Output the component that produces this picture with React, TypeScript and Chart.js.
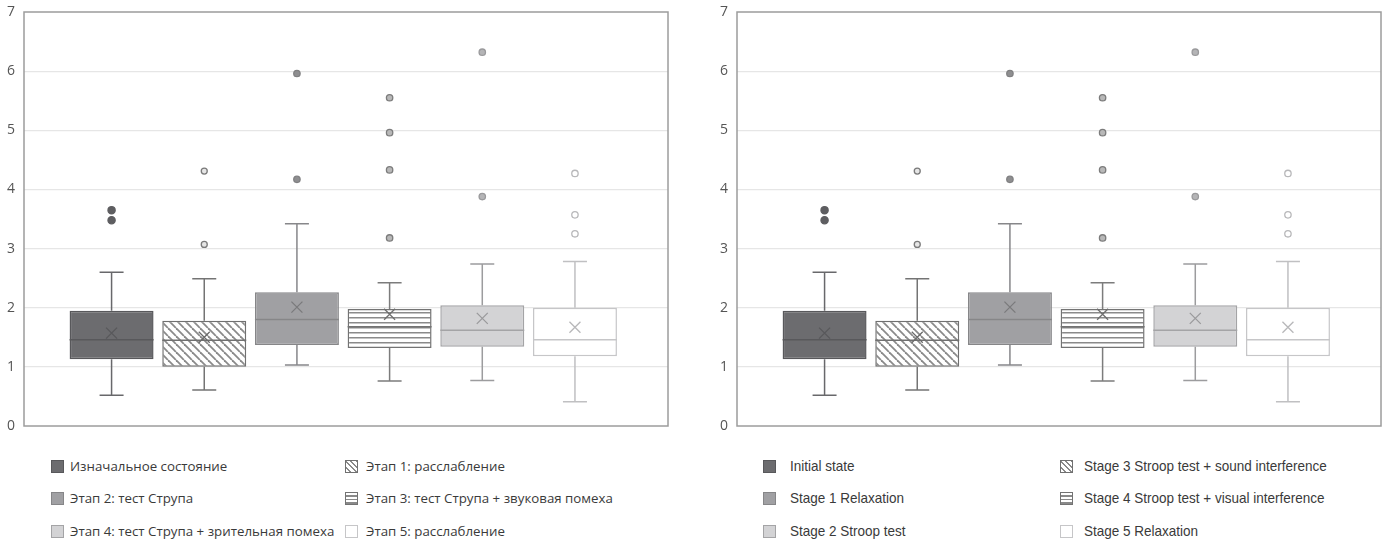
import React, { useEffect, useRef } from "react";
import { Chart, registerables } from "chart.js";
Chart.register(...registerables);

// ---- data ----
const yTickValues = [0, 1, 2, 3, 4, 5, 6, 7];
const seriesKeys = ["s1", "s2", "s3", "s4", "s5", "s6"];
const seriesPositions = [0, 1, 2, 3, 4, 5];
const legendRu = [
  "Изначальное состояние",
  "Этап 1: расслабление",
  "Этап 2: тест Струпа",
  "Этап 3: тест Струпа + звуковая помеха",
  "Этап 4: тест Струпа + зрительная помеха",
  "Этап 5: расслабление",
];
const legendEn = [
  "Initial state",
  "Stage 3 Stroop test + sound interference",
  "Stage 1 Relaxation",
  "Stage 4 Stroop test + visual interference",
  "Stage 2 Stroop test",
  "Stage 5 Relaxation",
];
const q1 = [1.13, 1.0, 1.37, 1.32, 1.34, 1.18];
const q3 = [1.95, 1.78, 2.26, 1.98, 2.04, 2.0];
const medians = [1.46, 1.45, 1.8, 1.68, 1.62, 1.46];
const means = [1.57, 1.5, 2.01, 1.89, 1.82, 1.67];
const whiskerLow = [0.52, 0.61, 1.03, 0.76, 0.77, 0.41];
const whiskerHigh = [2.6, 2.49, 3.42, 2.42, 2.74, 2.78];
const outliersS1 = [3.65, 3.48];
const outliersS2 = [4.31, 3.07];
const outliersS3 = [5.96, 4.17];
const outliersS4 = [5.55, 4.96, 4.33, 3.18];
const outliersS5 = [6.32, 3.88];
const outliersS6 = [4.27, 3.57, 3.25];
const outliers = [outliersS1, outliersS2, outliersS3, outliersS4, outliersS5, outliersS6];

// x range of the (hidden) index axis, in series-position units
const xRangeMin = -0.945;
const xRangeMax = 6.004;

// ---- styles ----
type St = {
  fill: string;
  pattern?: "diag" | "horiz";
  patternColor?: string;
  border: string;
  line: string;
  mean: string;
  outFill: string;
  outStroke: string;
  outR: number;
};
const styles: St[] = [
  { fill: "#6c6c6f", border: "#58585b", line: "#68686b", mean: "#58585b", outFill: "#5e5e61", outStroke: "#5e5e61", outR: 3.6 },
  { fill: "#ffffff", pattern: "diag", patternColor: "#8a8a8a", border: "#707070", line: "#747474", mean: "#6a6a6a", outFill: "#e6e6e6", outStroke: "#7a7a7a", outR: 3 },
  { fill: "#a0a0a3", border: "#868688", line: "#87878a", mean: "#7a7a7c", outFill: "#8e8e90", outStroke: "#808082", outR: 3.2 },
  { fill: "#ffffff", pattern: "horiz", patternColor: "#8a8a8a", border: "#737373", line: "#7c7c7c", mean: "#6e6e6e", outFill: "#b8b8b8", outStroke: "#7c7c7c", outR: 3.2 },
  { fill: "#d3d3d5", border: "#a4a4a6", line: "#9c9c9e", mean: "#9a9a9c", outFill: "#b4b4b6", outStroke: "#9a9a9c", outR: 3.2 },
  { fill: "#ffffff", border: "#c6c6c8", line: "#c0c0c2", mean: "#b8b8ba", outFill: "#ffffff", outStroke: "#b8b8ba", outR: 3.2 },
];

function makePattern(kind: "diag" | "horiz", color: string): CanvasPattern | string {
  const c = document.createElement("canvas");
  const s = kind === "diag" ? 8 : 5;
  c.width = s;
  c.height = s;
  const g = c.getContext("2d");
  if (!g) return "#fff";
  g.fillStyle = "#ffffff";
  g.fillRect(0, 0, s, s);
  g.strokeStyle = color;
  if (kind === "diag") {
    g.lineWidth = 1.8;
    for (let k = -1; k <= 1; k++) {
      g.beginPath();
      g.moveTo(k * s, 0);
      g.lineTo(k * s + s, s);
      g.stroke();
    }
  } else {
    g.fillStyle = color;
    g.fillRect(0, 2, s, 1.5);
  }
  return g.createPattern(c, "repeat") || "#fff";
}

const boxPlugin = {
  id: "boxExtras",
  afterDatasetsDraw(chart: any) {
    const ctx = chart.ctx as CanvasRenderingContext2D;
    const y = chart.scales.y;
    chart.data.datasets.forEach((_ds: any, i: number) => {
      const el = chart.getDatasetMeta(i).data[0];
      if (!el) return;
      const x = el.x;
      const w = el.width;
      const st = styles[i];
      const capW = 24;
      ctx.save();
      ctx.lineWidth = 1.5;
      ctx.strokeStyle = st.line;
      const yHi = y.getPixelForValue(whiskerHigh[i]);
      const yLo = y.getPixelForValue(whiskerLow[i]);
      const yQ3 = y.getPixelForValue(q3[i]);
      const yQ1 = y.getPixelForValue(q1[i]);
      ctx.beginPath();
      ctx.moveTo(x, yQ3);
      ctx.lineTo(x, yHi);
      ctx.moveTo(x - capW / 2, yHi);
      ctx.lineTo(x + capW / 2, yHi);
      ctx.moveTo(x, yQ1);
      ctx.lineTo(x, yLo);
      ctx.moveTo(x - capW / 2, yLo);
      ctx.lineTo(x + capW / 2, yLo);
      ctx.stroke();
      // median
      ctx.strokeStyle = st.border;
      const yMed = y.getPixelForValue(medians[i]);
      ctx.beginPath();
      ctx.moveTo(x - w / 2, yMed);
      ctx.lineTo(x + w / 2, yMed);
      ctx.stroke();
      // mean X
      const yMean = y.getPixelForValue(means[i]);
      const m = 5.5;
      ctx.strokeStyle = st.mean;
      ctx.lineWidth = 1.3;
      ctx.beginPath();
      ctx.moveTo(x - m, yMean - m);
      ctx.lineTo(x + m, yMean + m);
      ctx.moveTo(x + m, yMean - m);
      ctx.lineTo(x - m, yMean + m);
      ctx.stroke();
      // outliers
      outliers[i].forEach((v) => {
        const py = y.getPixelForValue(v);
        ctx.beginPath();
        ctx.arc(x, py, st.outR, 0, Math.PI * 2);
        ctx.fillStyle = st.outFill;
        ctx.fill();
        ctx.lineWidth = 1.3;
        ctx.strokeStyle = st.outStroke;
        ctx.stroke();
      });
      ctx.restore();
    });
  },
  afterDraw(chart: any) {
    const { left, top, right, bottom } = chart.chartArea;
    const ctx = chart.ctx as CanvasRenderingContext2D;
    ctx.save();
    ctx.strokeStyle = "#9c9c9c";
    ctx.lineWidth = 1.5;
    ctx.strokeRect(left, top, right - left, bottom - top);
    ctx.restore();
  },
};

function BoxChart({ width, height, padRight }: { width: number; height: number; padRight: number }) {
  const ref = useRef<HTMLCanvasElement>(null);
  useEffect(() => {
    if (!ref.current) return;
    const datasets = seriesKeys.map((k, i) => {
      const st = styles[i];
      const bg = st.pattern ? makePattern(st.pattern, st.patternColor || "#888") : st.fill;
      return {
        label: k,
        data: [{ x: seriesPositions[i], y: [q1[i], q3[i]] }] as any,
        backgroundColor: bg as any,
        borderColor: st.border,
        borderWidth: 1.5,
        borderSkipped: false as any,
        grouped: false,
        categoryPercentage: 1,
        barPercentage: 0.906,
      };
    });
    const chart = new Chart(ref.current, {
      type: "bar",
      data: { datasets },
      options: {
        animation: false,
        responsive: false,
        devicePixelRatio: 1,
        events: [],
        layout: { padding: { left: 0, top: 12, right: padRight, bottom: 14 } },
        plugins: { legend: { display: false }, tooltip: { enabled: false } },
        scales: {
          x: {
            type: "linear",
            display: false,
            offset: false,
            bounds: "data",
            min: xRangeMin,
            max: xRangeMax,
            ticks: { includeBounds: false },
            afterBuildTicks: (s: any) => {
              s.ticks = seriesPositions.map((v) => ({ value: v }));
            },
          },
          y: {
            min: 0,
            max: 7,
            afterFit: (s: any) => {
              s.width = 24;
              s.paddingTop = 0;
              s.paddingBottom = 0;
            },
            afterBuildTicks: (s: any) => {
              s.ticks = yTickValues.map((v) => ({ value: v }));
            },
            ticks: {
              color: "#555555",
              padding: 9,
              font: { family: "'Open Sans', 'Noto Sans', sans-serif", size: 14 },
            },
            grid: {
              drawTicks: false,
              color: (c: any) => (c.tick && (c.tick.value === 0 || c.tick.value === 7) ? "rgba(0,0,0,0)" : "#e6e6e6"),
              lineWidth: 1.2,
            },
            border: { display: false },
          },
        },
      } as any,
      plugins: [boxPlugin],
    });
    return () => chart.destroy();
  }, []);
  return <canvas ref={ref} width={width} height={height} style={{ display: "block", width, height }} />;
}

function Swatch({ i }: { i: number }) {
  const st = styles[i];
  let bg: string = st.fill;
  if (st.pattern === "diag") bg = `repeating-linear-gradient(45deg, #ffffff 0px, #ffffff 2.5px, ${st.patternColor} 2.5px, ${st.patternColor} 4px)`;
  if (st.pattern === "horiz") bg = `repeating-linear-gradient(180deg, #ffffff 0px, #ffffff 2px, ${st.patternColor} 2px, ${st.patternColor} 3.5px)`;
  return (
    <div
      style={{
        width: 13,
        height: 13,
        boxSizing: "border-box",
        border: `1px solid ${st.border}`,
        background: bg,
      }}
    />
  );
}

function Legend({
  labels,
  x1,
  t1,
  x2,
  t2,
  font,
  size,
  squeeze,
}: {
  labels: string[];
  x1: number;
  t1: number;
  x2: number;
  t2: number;
  font: string;
  size: number;
  squeeze: number;
}) {
  const rows = [466, 498, 531];
  return (
    <>
      {labels.map((lab, i) => {
        const col = i % 2;
        const row = Math.floor(i / 2);
        const cy = rows[row];
        const sx = col === 0 ? x1 : x2;
        const tx = col === 0 ? t1 : t2;
        return (
          <React.Fragment key={i}>
            <div style={{ position: "absolute", left: sx, top: cy - 6.5 }}>
              <Swatch i={i} />
            </div>
            <div
              style={{
                position: "absolute",
                left: tx,
                top: cy - 10,
                height: 20,
                lineHeight: "20px",
                fontFamily: font,
                fontSize: size,
                color: "#3a3a3a",
                whiteSpace: "nowrap",
                transform: `scaleX(${squeeze})`,
                transformOrigin: "0 50%",
              }}
            >
              {lab}
            </div>
          </React.Fragment>
        );
      })}
    </>
  );
}

export default function App() {
  return (
    <div style={{ position: "fixed", left: 0, top: 0, width: 1387, height: 542, background: "#ffffff", overflow: "hidden" }}>
      <div style={{ position: "absolute", left: 0, top: 0 }}>
        <BoxChart width={690} height={440} padRight={22} />
      </div>
      <div style={{ position: "absolute", left: 713, top: 0 }}>
        <BoxChart width={674} height={440} padRight={6} />
      </div>
      <Legend labels={legendRu} x1={51} t1={70} x2={345} t2={366} font="'Open Sans', 'Noto Sans', sans-serif" size={13.3} squeeze={1} />
      <Legend
        labels={legendEn}
        x1={763}
        t1={790}
        x2={1060}
        t2={1084}
        font="'Liberation Sans', Arial, sans-serif"
        size={15}
        squeeze={0.9}
      />
    </div>
  );
}
